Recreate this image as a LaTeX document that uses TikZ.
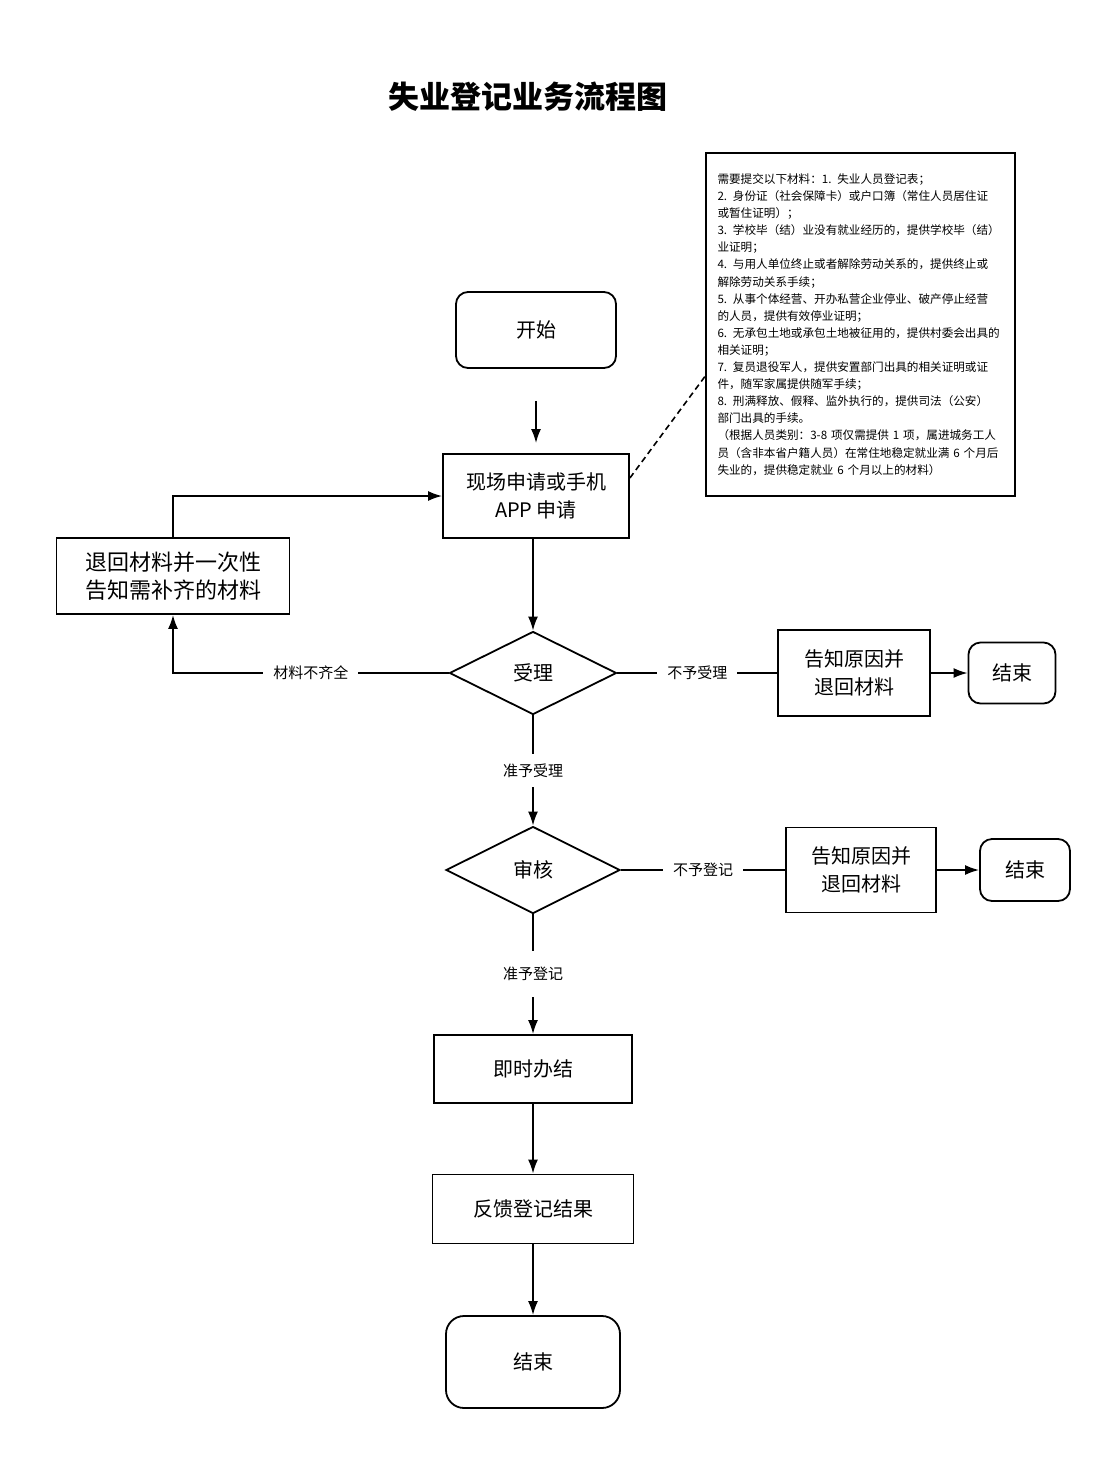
\documentclass[tikz,border=0pt]{standalone}
\usepackage{fontspec}
\setmainfont{Noto Sans CJK SC}
\usetikzlibrary{arrows.meta,shapes.geometric}
\begin{document}
\begin{tikzpicture}[x=0.5pt,y=-0.5pt,
  every node/.style={inner sep=0pt},
  boxtext/.style={font=\fontsize{10}{14}\selectfont, align=center},
  procbox/.style={draw, line width=0.9pt, rectangle, boxtext},
  termbox/.style={draw, line width=0.9pt, rectangle, rounded corners=6pt, boxtext},
  decbox/.style={draw, line width=0.9pt, diamond, aspect=2, boxtext},
  lbl/.style={fill=white, font=\fontsize{7.5}{9}\selectfont, inner xsep=5pt, inner ysep=2pt},
  arr/.style={line width=0.9pt, -{Latex[length=7pt,width=5pt]}},
  ln/.style={line width=0.9pt},
]
\useasboundingbox[fill=white] (0,0) rectangle (1103,1479);

\node (title) at (528,97) {\fontsize{15.5}{18}\selectfont\bfseries 失业登记业务流程图};

\node[termbox, minimum width=80pt, minimum height=38pt] (start) at (536,330) {开始};
\node[procbox, minimum width=93pt, minimum height=42pt] (apply) at (536,496) {现场申请或手机\\APP 申请};
\node[procbox, minimum width=116.5pt, minimum height=38pt, font=\fontsize{11}{14}\selectfont] (back) at (173,576) {退回材料并一次性\\告知需补齐的材料};
\node[decbox, minimum width=83.5pt, minimum height=41.5pt] (accept) at (533,673) {受理};
\node[procbox, minimum width=76pt, minimum height=43pt] (rej1) at (854,673) {告知原因并\\退回材料};
\node[termbox, minimum width=43.5pt, minimum height=30.5pt] (end1) at (1012,673) {结束};
\node[decbox, minimum width=87pt, minimum height=43.5pt] (review) at (533,870) {审核};
\node[procbox, minimum width=75pt, minimum height=42.5pt] (rej2) at (861,870) {告知原因并\\退回材料};
\node[termbox, minimum width=45pt, minimum height=31pt] (end2) at (1025,870) {结束};
\node[procbox, minimum width=99pt, minimum height=34pt] (done) at (533,1069) {即时办结};
\node[procbox, minimum width=100.5pt, minimum height=34.5pt] (feed) at (533,1209) {反馈登记结果};
\node[termbox, minimum width=87pt, minimum height=46pt, rounded corners=9pt] (end3) at (533,1362) {结束};

\node[draw, line width=1.1pt, rectangle, minimum width=154.5pt, minimum height=171.5pt,
      text width=143pt, align=left, font=\fontsize{5.8}{8.55}\selectfont] (note) at (860.5,324.5)
{需要提交以下材料：1. 失业人员登记表；\\
2. 身份证（社会保障卡）或户口簿（常住人员居住证\\
或暂住证明）；\\
3. 学校毕（结）业没有就业经历的，提供学校毕（结）\\
业证明；\\
4. 与用人单位终止或者解除劳动关系的，提供终止或\\
解除劳动关系手续；\\
5. 从事个体经营、开办私营企业停业、破产停止经营\\
的人员，提供有效停业证明；\\
6. 无承包土地或承包土地被征用的，提供村委会出具的\\
相关证明；\\
7. 复员退役军人，提供安置部门出具的相关证明或证\\
件，随军家属提供随军手续；\\
8. 刑满释放、假释、监外执行的，提供司法（公安）\\
部门出具的手续。\\
（根据人员类别：3-8 项仅需提供 1 项，属进城务工人\\
员（含非本省户籍人员）在常住地稳定就业满 6 个月后\\
失业的，提供稳定就业 6 个月以上的材料）};

% connectors
\draw[arr, shorten <=16pt, shorten >=5pt] (start) -- (apply);
\draw[arr] (apply.south -| accept.north) -- (accept.north);
\draw[arr] (accept.west) -- node[lbl] {材料不齐全} (accept.west -| back.south) -- (back.south);
\draw[arr] (back.north) |- (apply.west);
\draw[ln] (accept.east) -- node[lbl] {不予受理} (rej1.west);
\draw[arr] (rej1) -- (end1);
\draw[arr] (accept.south) -- node[lbl, inner ysep=5pt] {准予受理} (review.north);
\draw[ln] (review.east) -- node[lbl] {不予登记} (rej2.west);
\draw[arr] (rej2) -- (end2);
\draw[arr] (review.south) -- node[lbl, inner ysep=8pt] {准予登记} (done.north);
\draw[arr] (done) -- (feed);
\draw[arr] (feed) -- (end3);
\draw[line width=0.8pt, dashed, dash pattern=on 3pt off 2pt] ([yshift=9pt]apply.east) -- ([yshift=-26pt]note.west);
\end{tikzpicture}
\end{document}
